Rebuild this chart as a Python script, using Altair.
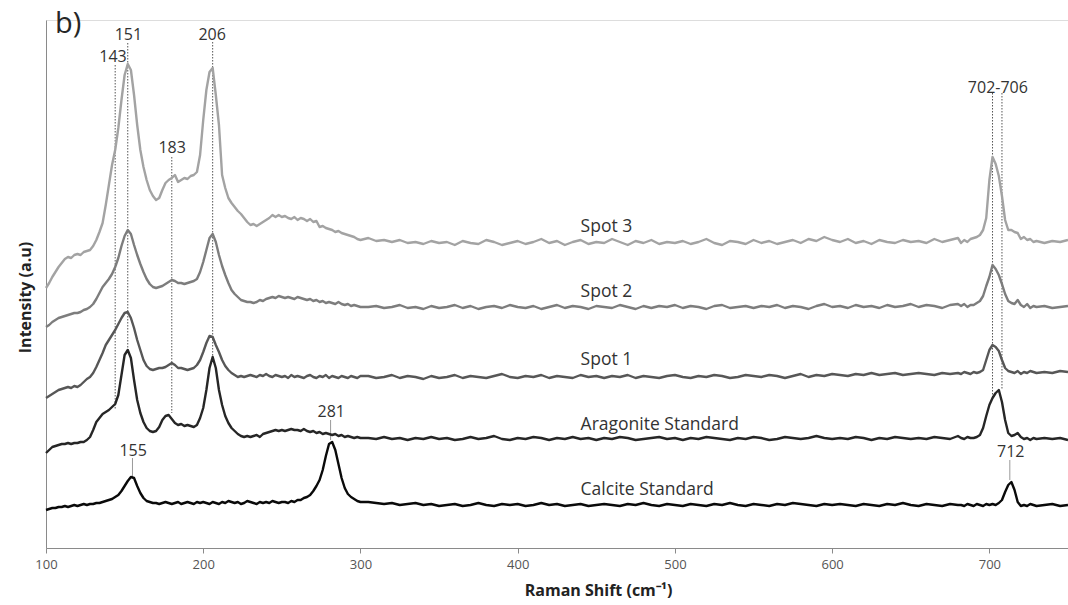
import altair as alt
import pandas as pd

# Raman shift sample positions (cm-1)
WAVENUMBER = (list(range(100, 302, 2)) + list(range(305, 681, 5))
              + list(range(682, 732, 2)) + list(range(735, 751, 5)))

SERIES = ["Spot 3", "Spot 2", "Spot 1", "Aragonite Standard", "Calcite Standard"]
COLORS = ["#a3a3a3", "#7d7d7d", "#575757", "#262626", "#0a0a0a"]

SPOT3 = [
    260, 265, 271, 276, 281, 285, 289, 291, 290, 293,
    294, 293, 296, 297, 298, 302, 308, 316, 325, 343,
    363, 383, 398, 420, 448, 473, 484, 478, 453, 423,
    398, 381, 368, 358, 352, 348, 350, 358, 365, 368,
    370, 373, 366, 368, 370, 369, 372, 373, 376, 393,
    428, 458, 476, 480, 453, 423, 373, 360, 350, 345,
    341, 337, 334, 330, 326, 323, 324, 322, 324, 326,
    328, 330, 333, 331, 333, 331, 332, 330, 329, 331,
    328, 330, 329, 327, 329, 326, 327, 321, 322, 320,
    319, 318, 316, 317, 315, 314, 313, 312, 311, 309,
    308,
    310, 307, 308, 306, 308, 305, 306, 304, 307, 305,
    306, 303, 307, 305, 304, 308, 306, 303, 305, 307,
    304, 306, 309, 305, 307, 303, 306, 308, 304, 306,
    305, 309, 306, 303, 307, 305, 308, 304, 306, 305,
    307, 304, 306, 309, 305, 303, 307, 306, 304, 308,
    305, 307, 304, 306, 308, 305, 309, 307, 311, 308,
    306, 309, 305, 307, 304, 308, 306, 305, 308, 306,
    307, 305, 309, 306, 308, 310,
    305, 308, 306, 309, 310, 311, 313, 318, 330, 368,
    391, 384, 372, 352, 328, 318, 318, 316, 315, 309,
    311, 308, 309, 306, 307,
    305, 307, 306, 308,
]

SPOT2 = [
    221, 223, 226, 228, 230, 231, 232, 233, 234, 235,
    235, 236, 238, 239, 241, 244, 249, 255, 261, 265,
    269, 274, 281, 290, 302, 312, 318, 314, 303, 293,
    284, 276, 269, 264, 261, 260, 261, 262, 264, 266,
    268, 267, 265, 265, 264, 265, 266, 267, 269, 276,
    286, 298, 310, 314, 306, 293, 282, 273, 265, 258,
    254, 251, 248, 247, 246, 246, 245, 246, 248, 247,
    249, 250, 251, 250, 252, 251, 250, 251, 250, 249,
    251, 250, 249, 248, 249, 247, 248, 246, 247, 245,
    246, 245, 244, 246, 244, 243, 244, 242, 243, 242,
    241,
    241, 242, 240, 241, 243, 240, 241, 239, 242, 240,
    241, 243, 240, 242, 239, 241, 242, 240, 243, 241,
    240, 242, 239, 241, 243, 240, 242, 241, 239, 242,
    241, 240, 243, 241, 239, 242, 240, 242, 241, 243,
    240, 242, 241, 239, 242, 243, 240, 241, 242, 240,
    242, 241, 243, 240, 242, 241, 239, 242, 244, 241,
    242, 240, 243, 241, 242, 240, 243, 241, 242, 244,
    241, 243, 242, 240, 243, 244,
    242, 244, 241, 243, 243, 245, 247, 252, 262, 271,
    283, 279, 273, 264, 254, 247, 245, 244, 248, 243,
    241, 244, 240, 242, 241,
    242, 240, 241, 242,
]

SPOT1 = [
    150, 152, 154, 156, 158, 159, 160, 161, 160, 162,
    161, 163, 166, 169, 171, 175, 181, 188, 195, 203,
    208, 213, 218, 224, 230, 235, 236, 230, 220, 208,
    198, 188, 182, 179, 178, 179, 180, 180, 181, 183,
    185, 183, 180, 180, 179, 178, 179, 180, 183, 188,
    196, 205, 212, 211, 203, 196, 188, 182, 178, 175,
    173, 171, 172, 171, 172, 173, 172, 171, 173, 172,
    174, 172, 171, 173, 172, 171, 172, 170, 173, 171,
    172, 171, 170, 172, 173, 171, 170, 172, 171, 173,
    170, 172, 171, 170, 172, 171, 170, 172, 171, 170,
    172,
    172, 170, 171, 173, 170, 172, 171, 169, 172, 170,
    171, 173, 170, 172, 171, 170, 172, 174, 171, 170,
    172, 171, 173, 170, 172, 171, 170, 173, 171, 172,
    170, 172, 171, 173, 170, 172, 171, 170, 172, 173,
    171, 170, 172, 171, 173, 172, 170, 171, 173, 172,
    171, 173, 172, 170, 172, 174, 171, 173, 172, 174,
    173, 172, 174, 173, 175, 173, 174, 175, 173, 174,
    175, 174, 173, 175, 174, 175,
    174, 176, 175, 174, 176, 175, 176, 178, 188, 198,
    203, 201, 197, 188, 180, 177, 176, 175, 177, 174,
    176, 175, 177, 176, 175,
    176, 175, 177, 176,
]

ARAGONITE = [
    95, 98, 101, 102, 103, 104, 104, 105, 104, 105,
    105, 106, 106, 108, 111, 118, 126, 130, 134, 136,
    138, 141, 144, 153, 173, 193, 198, 190, 168, 148,
    135, 126, 120, 117, 116, 117, 121, 128, 132, 133,
    129, 125, 123, 124, 122, 123, 122, 121, 123, 130,
    140, 158, 180, 191, 180, 158, 143, 132, 125, 120,
    117, 114, 112, 111, 112, 111, 112, 113, 111, 114,
    115, 116, 117, 118, 117, 118, 117, 118, 119, 118,
    118, 117, 119, 117, 116, 117, 115, 116, 114, 115,
    114, 113, 114, 112, 113, 111, 112, 111, 110, 111,
    110,
    110, 109, 111, 109, 110, 108, 110, 109, 111, 109,
    110, 108, 109, 111, 109, 110, 112, 109, 108, 110,
    109, 111, 110, 108, 110, 109, 111, 109, 110, 108,
    110, 109, 111, 110, 108, 109, 110, 111, 109, 110,
    108, 110, 109, 111, 110, 109, 108, 110, 109, 111,
    110, 108, 109, 111, 110, 109, 110, 112, 110, 109,
    110, 109, 111, 110, 108, 110, 109, 111, 110, 109,
    110, 109, 111, 110, 109, 112,
    110, 109, 111, 110, 110, 111, 113, 120, 132, 143,
    150, 155, 158, 146, 128, 115, 112, 113, 115, 111,
    109, 110, 108, 110, 109,
    110, 109, 110, 108,
]

CALCITE = [
    38, 39, 40, 40, 41, 41, 42, 41, 42, 43,
    42, 43, 44, 43, 44, 44, 45, 45, 46, 47,
    48, 49, 51, 53, 57, 62, 67, 71, 70, 62,
    55, 50, 47, 46, 45, 45, 44, 45, 46, 45,
    44, 45, 46, 44, 45, 46, 45, 44, 46, 45,
    46, 45, 44, 46, 45, 44, 46, 45, 47, 46,
    45, 46, 44, 45, 47, 46, 45, 44, 46, 45,
    46, 45, 47, 46, 45, 46, 46, 45, 47, 46,
    48, 48, 50, 51, 53, 57, 62, 68, 78, 92,
    104, 106, 98, 84, 70, 60, 54, 51, 49, 47,
    46,
    46, 45, 44, 45, 43, 44, 45, 43, 44, 42,
    43, 44, 42, 43, 45, 43, 42, 44, 43, 44,
    42, 43, 45, 43, 44, 42, 43, 44, 42, 43,
    44, 43, 42, 44, 43, 45, 43, 42, 44, 43,
    42, 44, 43, 42, 44, 43, 45, 43, 42, 44,
    43, 42, 44, 43, 45, 44, 43, 42, 44, 43,
    44, 43, 42, 44, 43, 42, 44, 43, 45, 43,
    42, 44, 43, 42, 44, 43,
    43, 42, 44, 43, 42, 44, 43, 42, 44, 43,
    44, 43, 45, 48, 56, 63, 66, 58, 46, 42,
    43, 42, 44, 43, 42,
    43, 44, 42, 43,
]

# Peak marker lines (dotted) and their extents
MARKER_X = [144, 152, 180, 206, 702, 708]
MARKER_TOP = [483, 505, 391, 506, 455, 455]
MARKER_BOTTOM = [138, 198, 135, 191, 151, 158]

# Short leader lines for calcite peaks
LEADER_X = [281, 155, 713]
LEADER_TOP = [128, 90, 88]
LEADER_BOTTOM = [108, 71, 68]

PEAK_LABELS = ["151", "143", "183", "206", "702-706", "281", "155", "712"]
PEAK_LABEL_X = [152.4, 142.6, 180.2, 205.7, 705.4, 281.4, 155.4, 713.6]
PEAK_LABEL_Y = [513, 491, 400, 513, 460, 136, 97, 96]

SERIES_LABEL_X = [440, 440, 440, 440, 440]
SERIES_LABEL_Y = [321, 256, 188, 123, 58]

PANEL_LABEL = ["b)"]
PANEL_X = [105.7]
PANEL_Y = [515]

FONT = "Open Sans"

rows = []
for name, vals in zip(SERIES, [SPOT3, SPOT2, SPOT1, ARAGONITE, CALCITE]):
    for w, v in zip(WAVENUMBER, vals):
        rows.append({"shift": w, "intensity": v, "series": name})
spectra = pd.DataFrame(rows)

xscale = alt.Scale(domain=[100, 750], nice=False, zero=False)
yscale = alt.Scale(domain=[0, 528], nice=False, zero=False)

lines = alt.Chart(spectra).mark_line(strokeWidth=2.4, strokeJoin="round").encode(
    x=alt.X("shift:Q", scale=xscale,
            axis=alt.Axis(values=[100, 200, 300, 400, 500, 600, 700], grid=False,
                          domainColor="#8a8a8a", tickColor="#8a8a8a", tickSize=5,
                          labelFont=FONT, labelFontSize=13, labelColor="#555555",
                          labelPadding=5, labelFlush=False,
                          title="Raman Shift (cm\u207b\u00b9)",
                          titleFont=FONT, titleFontSize=16, titleFontWeight="bold",
                          titleColor="#222222", titleX=552, titleY=42,
                          titleAlign="center", titleBaseline="middle")),
    y=alt.Y("intensity:Q", scale=yscale,
            axis=alt.Axis(labels=False, ticks=False, grid=False, domainColor="#8a8a8a",
                          title="Intensity (a.u)", titleFont=FONT, titleFontSize=16,
                          titleFontWeight="bold", titleColor="#222222",
                          titleX=-21, titleY=277, titleAngle=-90,
                          titleAlign="center", titleBaseline="middle")),
    color=alt.Color("series:N", scale=alt.Scale(domain=SERIES, range=COLORS), legend=None),
    detail="series:N",
)

markers_df = pd.DataFrame({"x": MARKER_X, "top": MARKER_TOP, "bottom": MARKER_BOTTOM})
markers = alt.Chart(markers_df).mark_rule(color="#555555", strokeWidth=1,
                                          strokeDash=[1.5, 1.5]).encode(
    x=alt.X("x:Q", scale=xscale), y=alt.Y("top:Q", scale=yscale), y2="bottom:Q")

leaders_df = pd.DataFrame({"x": LEADER_X, "top": LEADER_TOP, "bottom": LEADER_BOTTOM})
leaders = alt.Chart(leaders_df).mark_rule(color="#9a9a9a", strokeWidth=1).encode(
    x=alt.X("x:Q", scale=xscale), y=alt.Y("top:Q", scale=yscale), y2="bottom:Q")

peak_df = pd.DataFrame({"label": PEAK_LABELS, "x": PEAK_LABEL_X, "y": PEAK_LABEL_Y})
peak_text = alt.Chart(peak_df).mark_text(font=FONT, fontSize=16, color="#333333",
                                         align="center", baseline="middle").encode(
    x=alt.X("x:Q", scale=xscale), y=alt.Y("y:Q", scale=yscale), text="label:N")

series_df = pd.DataFrame({"label": SERIES, "x": SERIES_LABEL_X, "y": SERIES_LABEL_Y})
series_text = alt.Chart(series_df).mark_text(font=FONT, fontSize=17.5, color="#333333",
                                             align="left", baseline="middle").encode(
    x=alt.X("x:Q", scale=xscale), y=alt.Y("y:Q", scale=yscale), text="label:N")

panel_df = pd.DataFrame({"label": PANEL_LABEL, "x": PANEL_X, "y": PANEL_Y})
panel_text = alt.Chart(panel_df).mark_text(font=FONT, fontSize=29, color="#262626",
                                           align="left", baseline="alphabetic").encode(
    x=alt.X("x:Q", scale=xscale), y=alt.Y("y:Q", scale=yscale), text="label:N")

chart = alt.layer(markers, leaders, lines, peak_text, series_text, panel_text).properties(
    width=1022, height=528,
    autosize=alt.AutoSizeParams(type="none"),
    padding={"left": 46, "top": 20, "right": 0, "bottom": 57},
).configure_view(stroke=None).configure(background="white")

chart.save("out.html", embed_options={"renderer": "svg", "actions": False})
